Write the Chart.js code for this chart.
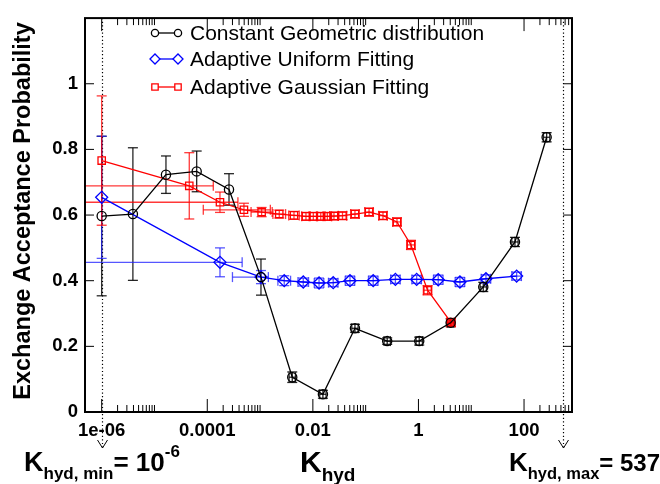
<!DOCTYPE html>
<html>
<head>
<meta charset="utf-8">
<script src="https://cdn.jsdelivr.net/npm/chart.js@4.4.1/dist/chart.umd.min.js"></script>
<style>
  html, body { margin: 0; padding: 0; background: #fff; }
  canvas { display: block; }
</style>
</head>
<body>
<canvas id="kChart" width="660" height="484"></canvas>
<script>
// axis ticks
const xTickVals = [1e-6, 1e-4, 1e-2, 1, 100];
const xTickLabels = ["1e-06", "0.0001", "0.01", "1", "100"];
const yTickVals = [0, 0.2, 0.4, 0.6, 0.8, 1];
const yTickLabels = ["0", "0.2", "0.4", "0.6", "0.8", "1"];
const kMin = 1e-6, kMax = 537;

// Constant Geometric distribution
const geoX = [1e-6, 3.9e-6, 1.65e-5, 6.3e-5, 2.58e-4, 1.04e-3, 4.07e-3, 1.55e-2, 6.27e-2, 0.256, 1.035, 4.07, 16.9, 67.3, 268];
const geoY = [0.597, 0.603, 0.723, 0.733, 0.678, 0.411, 0.106, 0.054, 0.255, 0.216, 0.216, 0.272, 0.381, 0.518, 0.837];
const geoErrY = [0.243, 0.202, 0.057, 0.062, 0.048, 0.055, 0.016, 0.012, 0.012, 0.010, 0.012, 0.012, 0.014, 0.014, 0.014];
const geoErrXlo = [0, 0, 0, 0, 0, 0, 0.06, 0.06, 0.06, 0.06, 0.06, 0.06, 0.06, 0.06, 0.06]; // decades
const geoErrXhi = [0, 0, 0, 0, 0, 0, 0.06, 0.06, 0.06, 0.06, 0.06, 0.06, 0.06, 0.06, 0.06];

// Adaptive Uniform Fitting
const uniX = [1e-6, 1.74e-4, 1.04e-3, 2.87e-3, 6.58e-3, 0.0131, 0.0243, 0.0505, 0.139, 0.366, 0.925, 2.37, 6.11, 19.0, 72.4];
const uniY = [0.654, 0.456, 0.411, 0.400, 0.396, 0.393, 0.394, 0.400, 0.400, 0.404, 0.404, 0.403, 0.396, 0.406, 0.414];
const uniErrY = [0.186, 0.044, 0.020, 0.015, 0.012, 0.015, 0.012, 0.014, 0.014, 0.012, 0.012, 0.014, 0.014, 0.012, 0.012];
const uniErrXlo = [0, 4, 0.54, 0.12, 0.10, 0.09, 0.09, 0.09, 0.09, 0.09, 0.09, 0.09, 0.09, 0.09, 0.09];
const uniErrXhi = [0, 0.42, 0.14, 0.12, 0.10, 0.09, 0.09, 0.09, 0.09, 0.09, 0.09, 0.09, 0.09, 0.09, 0.09];

// Adaptive Gaussian Fitting
const gauX = [1e-6, 4.56e-5, 1.74e-4, 4.95e-4, 1.07e-3, 2.31e-3, 4.39e-3, 7.4e-3, 0.0102, 0.0141, 0.0188, 0.0251, 0.0364, 0.0627, 0.116, 0.213, 0.392, 0.721, 1.49, 4.13];
const gauY = [0.766, 0.689, 0.639, 0.616, 0.609, 0.603, 0.599, 0.596, 0.596, 0.596, 0.596, 0.597, 0.598, 0.603, 0.609, 0.598, 0.579, 0.509, 0.371, 0.273];
const gauErrY = [0.197, 0.101, 0.031, 0.020, 0.014, 0.012, 0.012, 0.012, 0.012, 0.012, 0.012, 0.012, 0.012, 0.012, 0.012, 0.012, 0.012, 0.014, 0.014, 0.012];
const gauErrXlo = [0, 4, 4, 0.77, 0.20, 0.12, 0.10, 0.08, 0.08, 0.08, 0.08, 0.08, 0.08, 0.08, 0.08, 0.08, 0.08, 0.08, 0.08, 0.08];
const gauErrXhi = [0, 0.455, 0.34, 0.50, 0.20, 0.12, 0.10, 0.08, 0.08, 0.08, 0.08, 0.08, 0.08, 0.08, 0.08, 0.08, 0.08, 0.08, 0.08, 0.08];

const FONT = "'Liberation Sans', Arial, Helvetica, sans-serif";
Chart.defaults.font.family = FONT;
Chart.defaults.color = "#000";

const errSets = [
  { xs: geoX, ys: geoY, ey: geoErrY, lo: geoErrXlo, hi: geoErrXhi, color: "rgba(0,0,0,0.85)" },
  { xs: uniX, ys: uniY, ey: uniErrY, lo: uniErrXlo, hi: uniErrXhi, color: "rgba(30,30,255,0.75)" },
  { xs: gauX, ys: gauY, ey: gauErrY, lo: gauErrXlo, hi: gauErrXhi, color: "rgba(255,0,0,0.78)" }
];

function line(ctx, x1, y1, x2, y2) {
  ctx.beginPath(); ctx.moveTo(x1, y1); ctx.lineTo(x2, y2); ctx.stroke();
}

function drawMarker(ctx, style, x, y, r) {
  ctx.beginPath();
  if (style === "circle") ctx.arc(x, y, r, 0, Math.PI * 2);
  else if (style === "diamond") { ctx.moveTo(x - r, y); ctx.lineTo(x, y - r); ctx.lineTo(x + r, y); ctx.lineTo(x, y + r); ctx.closePath(); }
  else ctx.rect(x - r, y - r, 2 * r, 2 * r);
  ctx.fill(); ctx.stroke();
}

// text run with sub/superscripts
function drawRun(ctx, x, base, parts) {
  ctx.textAlign = "left";
  ctx.textBaseline = "alphabetic";
  parts.forEach(p => {
    ctx.font = "bold " + p.s + "px " + FONT;
    ctx.fillText(p.t, x, base + (p.dy || 0));
    x += ctx.measureText(p.t).width;
  });
}

const decorations = {
  id: "decorations",
  beforeDatasetsDraw(chart) {
    const { ctx, chartArea: a, scales: { x, y } } = chart;
    ctx.save();
    // limit markers
    ctx.strokeStyle = "#000";
    ctx.lineWidth = 1.2;
    [kMin, kMax].forEach(k => {
      const px = Math.round(x.getPixelForValue(k)) + 0.5;
      ctx.setLineDash([1.2, 2.4]);
      line(ctx, px, a.top, px, 448);
      ctx.setLineDash([]);
      ctx.lineWidth = 1;
      ctx.beginPath(); ctx.moveTo(px - 5, 440); ctx.lineTo(px, 448); ctx.lineTo(px + 5, 440); ctx.stroke();
      ctx.lineWidth = 1.2;
    });
    // error bars
    ctx.beginPath(); ctx.rect(a.left, a.top, a.right - a.left, a.bottom - a.top); ctx.clip();
    ctx.lineWidth = 1.3;
    const cap = 5;
    errSets.forEach(s => {
      ctx.strokeStyle = s.color;
      s.xs.forEach((xv, i) => {
        const px = x.getPixelForValue(xv), py = y.getPixelForValue(s.ys[i]);
        if (s.ey[i] > 0) {
          const t = y.getPixelForValue(s.ys[i] + s.ey[i]), b = y.getPixelForValue(s.ys[i] - s.ey[i]);
          line(ctx, px, t, px, b);
          line(ctx, px - cap, t, px + cap, t);
          line(ctx, px - cap, b, px + cap, b);
        }
        if (s.lo[i] > 0 || s.hi[i] > 0) {
          const l = x.getPixelForValue(xv / Math.pow(10, s.lo[i])), r = x.getPixelForValue(xv * Math.pow(10, s.hi[i]));
          line(ctx, l, py, r, py);
          if (s.lo[i] > 0) line(ctx, l, py - cap, l, py + cap);
          if (s.hi[i] > 0) line(ctx, r, py - cap, r, py + cap);
        }
      });
    });
    ctx.restore();
  },
  afterDraw(chart) {
    const { ctx, chartArea: a, scales: { x, y } } = chart;
    ctx.save();
    ctx.strokeStyle = "#000";
    ctx.fillStyle = "#000";
    // inward ticks
    ctx.lineWidth = 1;
    xTickVals.forEach(m => {
      const px = x.getPixelForValue(m);
      line(ctx, px, a.bottom, px, a.bottom - 13);
      line(ctx, px, a.top, px, a.top + 13);
      for (let k = 2; k <= 10; k++) {
        if (m * k > x.max) break;
        const q = x.getPixelForValue(m * k);
        line(ctx, q, a.bottom, q, a.bottom - 7);
        line(ctx, q, a.top, q, a.top + 7);
      }
    });
    yTickVals.forEach(v => {
      const py = y.getPixelForValue(v);
      line(ctx, a.left, py, a.left + 9, py);
      line(ctx, a.right, py, a.right - 9, py);
    });
    // frame
    ctx.lineWidth = 2;
    ctx.strokeRect(a.left, a.top, a.right - a.left, a.bottom - a.top);

    // legend
    const rows = [
      { label: "Constant Geometric distribution", color: "#000", style: "circle", r: 3.6, yy: 33 },
      { label: "Adaptive Uniform Fitting", color: "#0000ff", style: "diamond", r: 5, yy: 59 },
      { label: "Adaptive Gaussian Fitting", color: "#ff0000", style: "rect", r: 3.2, yy: 87 }
    ];
    rows.forEach(rw => {
      ctx.strokeStyle = rw.color;
      ctx.fillStyle = "#fff";
      ctx.lineWidth = 1.3;
      line(ctx, 155, rw.yy, 178, rw.yy);
      drawMarker(ctx, rw.style, 155, rw.yy, rw.r);
      drawMarker(ctx, rw.style, 178, rw.yy, rw.r);
      ctx.fillStyle = "#000";
      ctx.font = "21px " + FONT;
      ctx.textAlign = "left";
      ctx.textBaseline = "middle";
      ctx.fillText(rw.label, 190, rw.yy + 1);
    });

    // y axis title
    ctx.save();
    ctx.translate(30, 211);
    ctx.rotate(-Math.PI / 2);
    ctx.font = "bold 23.5px " + FONT;
    ctx.textAlign = "center";
    ctx.textBaseline = "alphabetic";
    ctx.fillText("Exchange Acceptance Probability", 0, 0);
    ctx.restore();

    // bottom annotations
    ctx.fillStyle = "#000";
    drawRun(ctx, 24, 471, [{ t: "K", s: 27 }, { t: "hyd, min", s: 17, dy: 8 }, { t: "= 10", s: 26 }, { t: "-6", s: 17, dy: -14 }]);
    drawRun(ctx, 300, 472, [{ t: "K", s: 30 }, { t: "hyd", s: 19, dy: 9 }]);
    drawRun(ctx, 509, 471, [{ t: "K", s: 26 }, { t: "hyd, max", s: 16.5, dy: 8 }, { t: "= 537", s: 24 }]);
    ctx.restore();
  }
};

const toPts = (xs, ys) => xs.map((v, i) => ({ x: v, y: ys[i] }));

new Chart(document.getElementById("kChart"), {
  type: "scatter",
  data: {
    datasets: [
      {
        label: "Constant Geometric distribution",
        data: toPts(geoX, geoY),
        showLine: true,
        borderColor: "#000",
        borderWidth: 1.3,
        pointStyle: "circle",
        pointRadius: 4.6,
        pointBorderColor: "#000",
        pointBackgroundColor: "rgba(0,0,0,0)",
        pointBorderWidth: 1.3
      },
      {
        label: "Adaptive Uniform Fitting",
        data: toPts(uniX, uniY),
        showLine: true,
        borderColor: "#0000ff",
        borderWidth: 1.3,
        pointStyle: "rectRot",
        pointRadius: 6,
        pointBorderColor: "#0000ff",
        pointBackgroundColor: "rgba(0,0,0,0)",
        pointBorderWidth: 1.3
      },
      {
        label: "Adaptive Gaussian Fitting",
        data: toPts(gauX, gauY),
        showLine: true,
        borderColor: "#ff0000",
        borderWidth: 1.3,
        pointStyle: "rect",
        pointRadius: 5.2,
        pointBorderColor: "#ff0000",
        pointBackgroundColor: gauX.map((_, i) => i === gauX.length - 1 ? "rgba(255,0,0,0.85)" : "rgba(0,0,0,0)"),
        pointBorderWidth: 1.3
      }
    ]
  },
  options: {
    responsive: false,
    animation: false,
    devicePixelRatio: 1,
    layout: { padding: { top: 12, right: 88, left: 0, bottom: 0 } },
    plugins: { legend: { display: false }, tooltip: { enabled: false } },
    scales: {
      x: {
        type: "logarithmic",
        min: 4.83e-7,
        max: 810,
        grid: { display: false, drawTicks: false },
        border: { display: false },
        afterBuildTicks: s => { s.ticks = xTickVals.map(v => ({ value: v })); },
        afterFit: s => { s.height = 72; },
        ticks: {
          autoSkip: false,
          maxRotation: 0,
          padding: 8,
          color: "#000",
          font: { size: 18.5, weight: "bold" },
          callback: (v, i) => xTickLabels[i]
        }
      },
      y: {
        min: 0,
        max: 1.2,
        grid: { display: false, drawTicks: false },
        border: { display: false },
        afterBuildTicks: s => { s.ticks = yTickVals.map(v => ({ value: v })); },
        afterFit: s => { s.width = 85; },
        ticks: {
          padding: 7,
          color: "#000",
          font: { size: 18.5, weight: "bold" },
          callback: (v, i) => yTickLabels[i]
        }
      }
    }
  },
  plugins: [decorations]
});
</script>
</body>
</html>
